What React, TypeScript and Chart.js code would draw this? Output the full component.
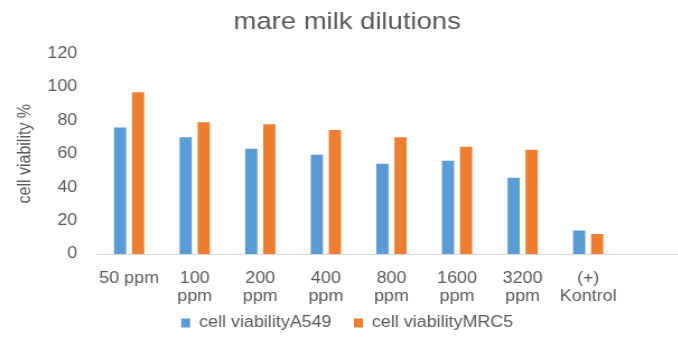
import { useEffect, useRef } from "react";
import { Chart, registerables } from "chart.js";

Chart.register(...registerables);

// Dilution steps on the x axis (the trailing empty slot keeps the axis running on)
const categories: (string | string[])[] = [
  "50 ppm",
  ["100", "ppm"],
  ["200", "ppm"],
  ["400", "ppm"],
  ["800", "ppm"],
  ["1600", "ppm"],
  ["3200", "ppm"],
  ["(+)", "Kontrol"],
  "",
];

// Cell viability (%) per cell line
const viabilityA549 = [76.2, 70.4, 63.6, 60.0, 54.6, 56.4, 46.2, 14.6, null];
const viabilityMRC5 = [97.4, 79.4, 78.2, 74.8, 70.4, 64.8, 63.0, 12.6, null];

const seriesNames = ["cell viabilityA549", "cell viabilityMRC5"];
const yMin = 0;
const yMax = 120;
const yStep = 20;

const FONT = "'Liberation Sans', Arial, sans-serif";
const TEXT = "#595959";

export default function App() {
  const canvasRef = useRef<HTMLCanvasElement | null>(null);

  useEffect(() => {
    const canvas = canvasRef.current;
    if (!canvas) return;
    const chart = new Chart(canvas, {
      type: "bar",
      data: {
        labels: categories,
        datasets: [
          {
            label: seriesNames[0],
            data: viabilityA549,
            backgroundColor: "#5B9BD5",
            borderColor: "rgba(255,255,255,0.35)",
            borderWidth: 1,
            categoryPercentage: 0.55,
            barPercentage: 0.8,
          },
          {
            label: seriesNames[1],
            data: viabilityMRC5,
            backgroundColor: "#ED7D31",
            borderColor: "rgba(255,255,255,0.35)",
            borderWidth: 1,
            categoryPercentage: 0.55,
            barPercentage: 0.8,
          },
        ],
      },
      options: {
        animation: false,
        responsive: true,
        maintainAspectRatio: false,
        layout: { padding: { left: 7, right: 0, top: 0, bottom: 9 } },
        plugins: {
          title: {
            display: true,
            text: "mare milk dilutions",
            color: TEXT,
            font: { family: FONT, size: 24.5, weight: "normal" },
            padding: { top: 8, bottom: 16 },
          },
          legend: {
            position: "bottom",
            labels: {
              color: TEXT,
              font: { family: FONT, size: 16 },
              boxWidth: 8,
              boxHeight: 9,
              padding: 20,
              generateLabels: (c: any) =>
                Chart.defaults.plugins.legend.labels
                  .generateLabels(c)
                  .map((item: any) => ({ ...item, lineWidth: 0 })),
            },
          },
          tooltip: { enabled: false },
        },
        scales: {
          x: {
            grid: { display: false, drawTicks: false },
            border: { display: true, color: "#D9D9D9", width: 1 },
            ticks: {
              color: TEXT,
              font: { family: FONT, size: 16, lineHeight: 1.1 },
              padding: 16,
              maxRotation: 0,
              autoSkip: false,
            },
            afterFit: (scale: any) => {
              scale.height = 41;
              // let two-line labels run below the axis box
              scale._computeLabelArea = () => undefined;
            },
          },
          y: {
            min: yMin,
            max: yMax,
            grid: { display: false, drawTicks: false },
            border: { display: false },
            ticks: {
              stepSize: yStep,
              color: TEXT,
              font: { family: FONT, size: 16 },
              padding: 17,
            },
            title: {
              display: true,
              text: "cell viability %",
              color: TEXT,
              font: { family: FONT, size: 16 },
              padding: { top: 6, bottom: 0 },
            },
            afterFit: (scale: any) => {
              scale.width = 79;
            },
          },
        },
      },
    });
    return () => chart.destroy();
  }, []);

  return (
    <div
      style={{
        position: "fixed",
        left: 0,
        top: 0,
        width: 678,
        height: 350,
        overflow: "hidden",
        background: "#fff",
      }}
    >
      <div
        style={{
          width: 613,
          height: 350,
          transform: "scaleX(1.12)",
          transformOrigin: "0 0",
        }}
      >
        <canvas ref={canvasRef} />
      </div>
    </div>
  );
}
